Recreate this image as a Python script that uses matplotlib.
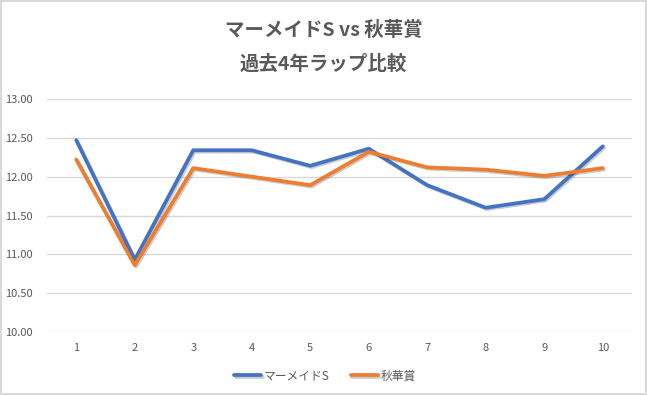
import matplotlib
matplotlib.use("Agg")
import matplotlib.pyplot as plt
import matplotlib.patheffects as pe

plt.rcParams['font.family'] = ['Noto Sans CJK JP', 'DejaVu Sans']

categories = ["1", "2", "3", "4", "5", "6", "7", "8", "9", "10"]
mermaid = [12.47, 10.93, 12.34, 12.34, 12.14, 12.36, 11.89, 11.60, 11.71, 12.39]
shuka = [12.22, 10.86, 12.11, 12.00, 11.89, 12.32, 12.12, 12.09, 12.01, 12.11]
series_names = ["マーメイドS", "秋華賞"]
yticks = [10.0, 10.5, 11.0, 11.5, 12.0, 12.5, 13.0]

W, H = 647, 395
fig = plt.figure(figsize=(W / 100, H / 100), dpi=100)
fig.patch.set_facecolor("white")
fig.patch.set_edgecolor("#D9D9D9")
fig.patch.set_linewidth(1.5)

ax = fig.add_axes([47 / W, 1 - 332 / H, (632 - 47) / W, (332 - 99) / H])
x = list(range(len(categories)))
shadow = [pe.SimpleLineShadow(offset=(1.0, -1.0), shadow_color="black", alpha=0.2), pe.Normal()]
ax.plot(x, mermaid, color="#4472C4", lw=2.7, label=series_names[0], solid_capstyle="round",
        solid_joinstyle="round", path_effects=shadow)
ax.plot(x, shuka, color="#ED7D31", lw=2.7, label=series_names[1], solid_capstyle="round",
        solid_joinstyle="round", path_effects=shadow)

ax.set_xlim(-0.5, len(categories) - 0.5)
ax.set_ylim(10.0, 13.0)
ax.set_yticks(yticks)
ax.set_yticklabels([f"{v:.2f}" for v in yticks])
ax.set_xticks(x)
ax.set_xticklabels(categories)
ax.grid(axis="y", color="#D9D9D9", lw=1)
ax.set_axisbelow(True)
for s in ax.spines.values():
    s.set_visible(False)
ax.tick_params(axis="both", length=0, labelsize=8, labelcolor="#595959")
ax.tick_params(axis="y", pad=10)
ax.tick_params(axis="x", pad=8)

fig.text(0.5, 1 - 30 / H, "マーメイドS vs 秋華賞", ha="center", va="center",
         fontsize=14, fontweight="bold", color="#595959")
fig.text(0.5, 1 - 64 / H, "過去4年ラップ比較", ha="center", va="center",
         fontsize=14, fontweight="bold", color="#595959")

leg = fig.legend(loc="center", bbox_to_anchor=(325 / W, 1 - 376 / H), ncol=2, frameon=False,
                 fontsize=8.5, handlelength=2.3, handletextpad=0.2, columnspacing=1.8)
for t in leg.get_texts():
    t.set_color("#595959")

fig.savefig("out.png", dpi=100, facecolor=fig.get_facecolor(), edgecolor=fig.get_edgecolor())
